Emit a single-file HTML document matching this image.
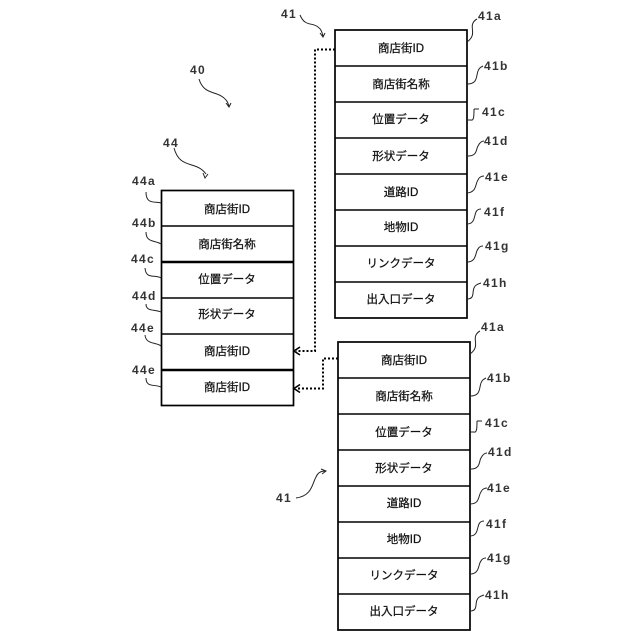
<!DOCTYPE html>
<html>
<head>
<meta charset="utf-8">
<style>
html,body{margin:0;padding:0;background:#fff;width:640px;height:640px;overflow:hidden}
svg{display:block}
.c{font-family:"Liberation Sans","Noto Sans CJK JP",sans-serif;font-size:11.5px;text-anchor:middle;fill:#111;stroke:#111;stroke-width:.25px}
.n{font-family:"Liberation Sans",sans-serif;font-size:12px;font-weight:bold;fill:#333;letter-spacing:1.3px}
.b{fill:#fff;stroke:#000;stroke-width:1.7}
.l{stroke:#000;stroke-width:1.6;fill:none}
.h{stroke:#000;stroke-width:2.6;fill:none}
.w{stroke:#222;stroke-width:1;fill:none}
.d{stroke:#000;stroke-width:2;stroke-dasharray:2 2;fill:none}
.a{stroke:#000;stroke-width:1.6;fill:none}
</style>
</head>
<body>
<svg width="640" height="640" viewBox="0 0 640 640" xmlns="http://www.w3.org/2000/svg">
<!-- Top right table -->
<rect class="b" x="335" y="30" width="132" height="288"/>
<path class="l" d="M335 66H467M335 102H467M335 138H467M335 174H467M335 210H467M335 246H467M335 282H467"/>
<text class="c" x="401" y="52">商店街ID</text>
<text class="c" x="401" y="88">商店街名称</text>
<text class="c" x="401" y="123">位置データ</text>
<text class="c" x="401" y="160">形状データ</text>
<text class="c" x="401" y="196">道路ID</text>
<text class="c" x="401" y="231">地物ID</text>
<text class="c" x="401" y="267">リンクデータ</text>
<text class="c" x="401" y="303">出入口データ</text>
<!-- Bottom right table -->
<rect class="b" x="338" y="342" width="132" height="288"/>
<path class="l" d="M338 378H470M338 414H470M338 450H470M338 486H470M338 522H470M338 558H470M338 594H470"/>
<text class="c" x="404" y="364">商店街ID</text>
<text class="c" x="404" y="400">商店街名称</text>
<text class="c" x="404" y="436">位置データ</text>
<text class="c" x="404" y="472">形状データ</text>
<text class="c" x="404" y="507">道路ID</text>
<text class="c" x="404" y="543">地物ID</text>
<text class="c" x="404" y="579">リンクデータ</text>
<text class="c" x="404" y="615">出入口データ</text>
<!-- Left table -->
<rect class="b" x="161.500" y="190.500" width="132" height="215"/>
<path class="l" d="M161 226H293M161 298H293M161 334H293"/>
<path class="h" d="M161 262H293M161 370H293"/>
<text class="c" x="227" y="213">商店街ID</text>
<text class="c" x="227" y="248">商店街名称</text>
<text class="c" x="227" y="283">位置データ</text>
<text class="c" x="227" y="318">形状データ</text>
<text class="c" x="227" y="355">商店街ID</text>
<text class="c" x="227" y="391">商店街ID</text>
<!-- Dashed connectors -->
<path class="d" d="M335 49.500H315V351H296"/>
<path class="d" d="M338 358.500H323V388.500H296"/>
<path class="a" d="M300 347L294 351L300 355M300 384.500L294 388.500L300 392.500"/>
<!-- Reference labels -->
<text class="n" x="281" y="18">41</text>
<text class="n" x="190" y="74">40</text>
<text class="n" x="163" y="147">44</text>
<text class="n" x="276" y="502">41</text>
<text class="n" x="478" y="20">41a</text>
<text class="n" x="484" y="70">41b</text>
<text class="n" x="482" y="116">41c</text>
<text class="n" x="484" y="145">41d</text>
<text class="n" x="485" y="181">41e</text>
<text class="n" x="484" y="216">41f</text>
<text class="n" x="485" y="250">41g</text>
<text class="n" x="483" y="287">41h</text>
<text class="n" x="481" y="331">41a</text>
<text class="n" x="487" y="382">41b</text>
<text class="n" x="485" y="427">41c</text>
<text class="n" x="488" y="456">41d</text>
<text class="n" x="487" y="492">41e</text>
<text class="n" x="486" y="528">41f</text>
<text class="n" x="487" y="562">41g</text>
<text class="n" x="485" y="599">41h</text>
<text class="n" x="132" y="185">44a</text>
<text class="n" x="132" y="227">44b</text>
<text class="n" x="131" y="263">44c</text>
<text class="n" x="132" y="300">44d</text>
<text class="n" x="131" y="332">44e</text>
<text class="n" x="132" y="374">44e</text>
<!-- Wavy leaders -->
<path class="w" d="M300 15C305 27 312 22 318 27C321 29 322 32 323 36M320 33L323 37L325 33"/>
<path class="w" d="M199 79C204 96 218 90 226 100C228 102 228 104 229 106M226 103L229 107L231 103"/>
<path class="w" d="M174 148C180 170 196 160 206 174M203 173L205 178L208 174"/>
<path class="w" d="M296 498C312 496 312 484 316 477C318 472 322 471 325 471M321 469L326 471L322 474"/>
<path class="w" d="M467 42C477 35 470 28 473 23C474 21 475 20 477 19"/>
<path class="w" d="M467 84C478 84 476 76 478 71C479 68 481 67 483 66"/>
<path class="w" d="M474 109C474 115 474 121 471 120H467M474 109C475 109 477 109 479 109"/>
<path class="w" d="M468 156C478 156 476 148 478 146C480 142 482 141 484 141"/>
<path class="w" d="M467 193C477 192 475 184 478 180C479 177 482 176 484 176"/>
<path class="w" d="M467 224C475 224 474 216 476 212C477 210 479 209 481 209"/>
<path class="w" d="M467 262C477 262 475 252 478 249C479 247 481 246 483 246"/>
<path class="w" d="M467 299C475 299 472 292 474 288C475 285 478 284 481 283"/>
<path class="w" d="M470 354C480 347 473 340 476 335C477 333 478 332 480 331"/>
<path class="w" d="M470 396C481 396 479 388 481 383C482 380 484 379 486 378"/>
<path class="w" d="M477 421C477 427 477 433 474 432H470M477 421C478 421 480 421 482 421"/>
<path class="w" d="M471 469C481 469 479 460 481 458C483 454 485 453 487 453"/>
<path class="w" d="M470 504C480 504 478 496 481 492C482 489 485 488 487 488"/>
<path class="w" d="M470 536C478 536 477 528 479 524C480 522 482 521 484 521"/>
<path class="w" d="M470 574C480 574 478 564 481 561C482 559 484 558 486 558"/>
<path class="w" d="M470 611C478 611 475 604 477 600C478 597 481 596 484 595"/>
<path class="w" d="M146 192C146 205 155 201 161 203"/>
<path class="w" d="M146 232C146 243 155 240 161 244"/>
<path class="w" d="M145 268C146 280 155 274 161 278"/>
<path class="w" d="M146 304C146 312 155 309 161 312"/>
<path class="w" d="M145 335C146 345 157 342 161 346"/>
<path class="w" d="M146 378C146 388 155 384 161 387"/>
</svg>
</body>
</html>
